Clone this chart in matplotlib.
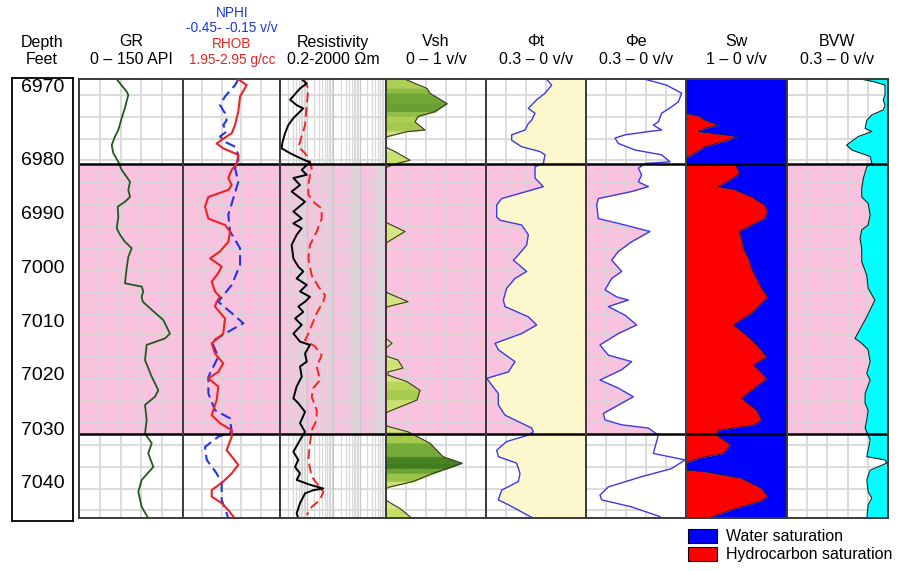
import numpy as np
import matplotlib.pyplot as plt
from matplotlib.colors import LinearSegmentedColormap, Normalize
from matplotlib.patches import Patch

plt.rcParams['font.family'] = ['Liberation Sans', 'DejaVu Sans']

# ---- curves: (depth ft, value) ----
gr_log = np.array([
    (6964.3, 54.4), (6966.6, 68.8), (6967.2, 71.1), (6969.6, 66.3), (6971.5, 61.6),
    (6973.7, 56.7), (6974.9, 51.9), (6976.5, 47.2), (6978.0, 49.5), (6979.6, 56.7),
    (6981.1, 61.6), (6982.4, 68.8), (6983.3, 73.6), (6984.8, 71.1), (6986.1, 73.6),
    (6987.0, 66.3), (6987.9, 55.8), (6989.8, 56.7), (6991.9, 54.4), (6993.1, 59.1),
    (6994.4, 66.3), (6995.6, 76.0), (6997.2, 71.1), (6999.3, 68.8), (7002.1, 66.3),
    (7002.7, 90.4), (7003.6, 92.7), (7004.6, 90.4), (7005.5, 92.0), (7007.0, 104.9),
    (7008.9, 121.6), (7011.4, 131.2), (7012.3, 124.0), (7013.5, 97.6), (7016.3, 95.2),
    (7019.4, 104.9), (7021.9, 114.4), (7023.1, 109.6), (7024.6, 95.2), (7027.4, 97.6),
    (7029.9, 95.2), (7031.7, 104.9), (7033.6, 99.9), (7036.1, 107.2), (7038.5, 90.4),
    (7040.7, 85.5), (7043.5, 90.4), (7045.6, 99.9)])

rhob_log = np.array([
    (6964.3, 2.520), (6965.4, 2.607), (6967.5, 2.538), (6970.3, 2.520), (6972.8, 2.486),
    (6974.3, 2.452), (6974.9, 2.400), (6976.2, 2.297), (6977.1, 2.365), (6978.3, 2.520),
    (6979.9, 2.504), (6981.1, 2.452), (6982.6, 2.417), (6983.9, 2.452), (6984.8, 2.417),
    (6986.1, 2.211), (6987.9, 2.177), (6990.1, 2.211), (6991.3, 2.383), (6992.5, 2.435),
    (6994.4, 2.417), (6996.2, 2.331), (6997.5, 2.228), (6998.1, 2.280), (6999.0, 2.349),
    (7000.2, 2.314), (7001.8, 2.246), (7003.6, 2.280), (7004.6, 2.331), (7005.5, 2.297),
    (7006.4, 2.280), (7008.6, 2.383), (7011.4, 2.365), (7013.2, 2.246), (7015.1, 2.280),
    (7016.9, 2.365), (7018.5, 2.314), (7019.7, 2.211), (7021.2, 2.314), (7023.7, 2.297),
    (7026.5, 2.246), (7028.0, 2.331), (7029.3, 2.452), (7030.5, 2.452), (7033.0, 2.400),
    (7035.7, 2.520), (7037.3, 2.452), (7038.8, 2.365), (7040.4, 2.246), (7041.6, 2.246),
    (7042.8, 2.349), (7044.1, 2.417), (7045.3, 2.469)])

nphi_log = np.array([
    (6964.3, 0.108), (6965.4, 0.128), (6967.5, 0.190), (6969.1, 0.221), (6970.6, 0.190),
    (6971.9, 0.180), (6972.8, 0.201), (6974.0, 0.180), (6974.9, 0.221), (6975.9, 0.190),
    (6976.8, 0.128), (6978.3, 0.108), (6979.6, 0.108), (6980.8, 0.128), (6983.3, 0.108),
    (6986.4, 0.139), (6989.4, 0.170), (6992.5, 0.159), (6995.6, 0.097), (6998.7, 0.097),
    (7002.4, 0.149), (7005.5, 0.232), (7007.6, 0.149), (7009.5, 0.077), (7011.4, 0.190),
    (7012.9, 0.272), (7015.7, 0.232), (7019.4, 0.293), (7022.5, 0.293), (7025.6, 0.252),
    (7027.1, 0.159), (7029.6, 0.149), (7030.5, 0.232), (7032.4, 0.314), (7034.8, 0.303),
    (7037.3, 0.242), (7039.1, 0.211), (7042.2, 0.211), (7044.7, 0.180), (7045.6, 0.170)])

rdeep_log = np.array([
    (6964.3, 1.32), (6965.1, 2.04), (6966.0, 1.14), (6968.1, 0.48), (6969.1, 0.85),
    (6969.7, 1.51), (6971.5, 0.64), (6972.8, 0.41), (6974.3, 0.31), (6975.9, 0.25),
    (6977.1, 0.23), (6978.0, 0.48), (6978.9, 1.14), (6979.7, 2.71), (6980.5, 1.76),
    (6981.1, 1.32), (6982.0, 2.04), (6982.6, 0.64), (6983.9, 1.14), (6985.1, 0.55),
    (6987.0, 1.76), (6988.8, 0.64), (6990.1, 1.32), (6991.0, 0.64), (6991.9, 1.32),
    (6993.1, 0.85), (6995.0, 0.55), (6997.5, 0.64), (6999.0, 0.98), (6999.9, 1.51),
    (7001.2, 0.85), (7002.4, 2.04), (7003.6, 1.14), (7004.6, 2.71), (7005.5, 1.76),
    (7006.4, 0.98), (7007.4, 1.51), (7008.6, 0.74), (7009.8, 1.32), (7011.4, 0.64),
    (7012.9, 1.14), (7013.5, 2.71), (7015.1, 1.76), (7016.6, 2.04), (7017.5, 1.14),
    (7019.4, 1.32), (7021.2, 0.85), (7023.4, 0.64), (7024.3, 0.98), (7025.9, 1.76),
    (7028.0, 1.14), (7029.6, 1.76), (7031.1, 1.14), (7033.3, 0.64), (7034.8, 0.98),
    (7036.1, 0.74), (7037.3, 1.14), (7038.5, 0.85), (7039.4, 2.71), (7040.1, 8.61),
    (7040.4, 3.61), (7041.0, 1.76), (7042.8, 1.14), (7044.7, 0.85), (7045.6, 0.98)])

rshallow_log = np.array([
    (6964.3, 1.51), (6966.0, 2.34), (6969.1, 2.04), (6972.8, 1.76), (6975.9, 1.14),
    (6976.8, 0.98), (6978.0, 1.76), (6979.6, 2.71), (6980.8, 3.14), (6982.0, 2.71),
    (6983.9, 2.34), (6985.7, 2.34), (6987.3, 4.19), (6988.2, 7.49), (6990.1, 7.49),
    (6992.5, 4.85), (6995.0, 2.71), (6997.5, 2.34), (7000.6, 3.14), (7002.7, 5.58),
    (7004.3, 9.98), (7005.5, 8.61), (7007.6, 4.85), (7011.4, 2.34), (7012.6, 1.76),
    (7013.8, 4.19), (7015.4, 7.49), (7017.5, 4.85), (7020.0, 6.47), (7021.5, 3.61),
    (7023.1, 3.14), (7025.6, 4.85), (7027.4, 4.85), (7029.3, 3.14), (7031.7, 2.71),
    (7034.8, 2.34), (7037.9, 3.14), (7040.7, 8.61), (7042.2, 6.47), (7043.5, 3.14),
    (7045.0, 2.04)])

vsh_log = np.array([
    (6964.3, 0.19), (6966.0, 0.41), (6966.9, 0.44), (6968.8, 0.61), (6970.3, 0.49),
    (6971.2, 0.32), (6972.2, 0.29), (6973.7, 0.39), (6974.0, 0.21), (6974.9, 0.02),
    (6975.2, 0.0), (6976.7, 0.0), (6977.1, 0.02), (6977.7, 0.09), (6979.3, 0.24),
    (6979.9, 0.11), (6980.5, 0.02), (6980.8, 0.0), (6990.7, 0.0), (6991.0, 0.02),
    (6992.5, 0.19), (6994.4, 0.02), (6994.7, 0.0), (7003.6, 0.0), (7003.9, 0.02),
    (7005.5, 0.22), (7006.4, 0.02), (7006.7, 0.0), (7012.3, 0.0), (7012.6, 0.02),
    (7013.2, 0.06), (7013.8, 0.02), (7014.1, 0.0), (7015.4, 0.0), (7015.7, 0.02),
    (7016.3, 0.12), (7017.8, 0.17), (7018.5, 0.02), (7019.1, 0.02), (7020.3, 0.21),
    (7021.9, 0.34), (7023.7, 0.31), (7025.9, 0.02), (7026.2, 0.0), (7028.3, 0.0),
    (7028.6, 0.02), (7029.6, 0.22), (7031.7, 0.44), (7034.2, 0.57), (7035.4, 0.76),
    (7036.4, 0.61), (7037.3, 0.47), (7038.8, 0.27), (7039.8, 0.04), (7040.1, 0.0),
    (7042.2, 0.0), (7042.5, 0.02), (7043.8, 0.14), (7045.6, 0.26)])

phit_log = np.array([
    (6964.3, 0.118), (6965.4, 0.103), (6966.9, 0.123), (6968.1, 0.148), (6969.7, 0.173),
    (6970.6, 0.153), (6971.9, 0.163), (6972.5, 0.173), (6973.7, 0.183), (6974.6, 0.223),
    (6975.6, 0.223), (6976.8, 0.193), (6977.7, 0.138), (6978.3, 0.123), (6979.9, 0.128),
    (6980.5, 0.153), (6982.6, 0.153), (6984.2, 0.128), (6986.4, 0.253), (6987.6, 0.268),
    (6989.8, 0.268), (6990.4, 0.258), (6991.3, 0.193), (6993.1, 0.173), (6995.0, 0.178),
    (6997.2, 0.208), (6997.8, 0.218), (6999.9, 0.178), (7001.2, 0.213), (7003.0, 0.238),
    (7005.2, 0.248), (7006.4, 0.243), (7008.3, 0.173), (7009.8, 0.148), (7011.4, 0.193),
    (7013.2, 0.273), (7014.4, 0.263), (7016.6, 0.213), (7018.5, 0.233), (7019.7, 0.298),
    (7022.5, 0.263), (7024.6, 0.263), (7026.5, 0.243), (7028.9, 0.163), (7029.6, 0.158),
    (7030.2, 0.173), (7031.4, 0.238), (7033.0, 0.268), (7034.2, 0.263), (7035.4, 0.208),
    (7037.3, 0.198), (7038.8, 0.203), (7040.4, 0.253), (7042.2, 0.263), (7043.1, 0.233),
    (7045.6, 0.158)])

phie_log = np.array([
    (6964.3, 0.123), (6965.4, 0.058), (6966.9, 0.013), (6968.5, 0.023), (6969.4, 0.043),
    (6970.6, 0.073), (6972.2, 0.083), (6972.8, 0.098), (6973.7, 0.073), (6974.0, 0.113),
    (6974.6, 0.183), (6975.2, 0.213), (6976.2, 0.203), (6977.4, 0.153), (6978.3, 0.073),
    (6979.6, 0.048), (6979.9, 0.123), (6980.8, 0.143), (6982.0, 0.133), (6983.3, 0.143),
    (6984.2, 0.113), (6985.1, 0.163), (6986.4, 0.263), (6987.6, 0.268), (6990.1, 0.263),
    (6991.3, 0.183), (6992.5, 0.108), (6994.4, 0.163), (6996.2, 0.203), (6997.8, 0.223),
    (6999.9, 0.193), (7001.2, 0.223), (7003.3, 0.243), (7004.6, 0.208), (7005.2, 0.173),
    (7006.4, 0.233), (7008.0, 0.183), (7009.8, 0.148), (7011.4, 0.203), (7013.5, 0.258),
    (7015.4, 0.233), (7016.6, 0.163), (7018.1, 0.193), (7020.0, 0.258), (7021.5, 0.203),
    (7023.1, 0.158), (7024.3, 0.193), (7026.2, 0.248), (7027.4, 0.243), (7028.3, 0.193),
    (7028.9, 0.113), (7030.2, 0.083), (7033.6, 0.098), (7034.8, 0.003), (7036.4, 0.043),
    (7037.9, 0.133), (7039.8, 0.233), (7041.3, 0.258), (7042.2, 0.253), (7043.5, 0.163),
    (7045.3, 0.078)])

sw_log = np.array([
    (6964.3, 1.0), (6970.6, 1.0), (6971.2, 0.86), (6971.9, 0.81), (6972.8, 0.68),
    (6973.4, 0.81), (6974.0, 0.88), (6974.9, 0.50), (6975.6, 0.58), (6976.8, 0.81),
    (6978.3, 0.94), (6978.9, 1.0), (6979.9, 1.0), (6980.1, 0.51), (6981.7, 0.47),
    (6982.6, 0.53), (6984.2, 0.68), (6984.8, 0.51), (6986.1, 0.35), (6987.6, 0.22),
    (6988.8, 0.19), (6990.1, 0.22), (6991.3, 0.35), (6992.5, 0.47), (6993.8, 0.45),
    (6995.6, 0.43), (6997.5, 0.38), (6999.3, 0.35), (7001.2, 0.30), (7003.0, 0.25),
    (7004.6, 0.19), (7005.2, 0.22), (7007.6, 0.35), (7009.8, 0.53), (7011.4, 0.42),
    (7013.5, 0.30), (7015.7, 0.20), (7017.2, 0.33), (7018.1, 0.28), (7019.7, 0.20),
    (7021.2, 0.30), (7023.4, 0.45), (7025.6, 0.30), (7027.4, 0.25), (7028.3, 0.32),
    (7029.3, 0.68), (7030.2, 0.70), (7032.0, 0.56), (7033.6, 0.63), (7034.5, 0.88),
    (7035.4, 1.0), (7036.7, 1.0), (7037.0, 0.81), (7038.2, 0.45), (7040.1, 0.25),
    (7041.6, 0.19), (7042.5, 0.27), (7043.8, 0.51), (7045.6, 0.78)])

bvw_log = np.array([
    (6964.3, 0.078), (6964.8, 0.039), (6965.4, 0.009), (6967.2, 0.009), (6968.1, 0.014),
    (6969.1, 0.009), (6970.0, 0.014), (6970.9, 0.048), (6971.9, 0.063), (6973.4, 0.068),
    (6974.0, 0.048), (6974.9, 0.088), (6976.5, 0.123), (6977.4, 0.108), (6978.6, 0.053),
    (6979.9, 0.048), (6980.5, 0.063), (6982.6, 0.073), (6984.5, 0.078), (6986.1, 0.078),
    (6987.3, 0.059), (6989.4, 0.053), (6991.3, 0.059), (6992.2, 0.078), (6993.8, 0.083),
    (6995.6, 0.078), (6998.1, 0.078), (7000.6, 0.063), (7003.0, 0.059), (7005.2, 0.039),
    (7008.3, 0.063), (7012.3, 0.098), (7013.2, 0.078), (7014.4, 0.059), (7016.6, 0.053),
    (7018.8, 0.063), (7020.0, 0.053), (7022.5, 0.068), (7024.3, 0.068), (7025.6, 0.059),
    (7027.4, 0.063), (7028.9, 0.068), (7031.1, 0.053), (7034.2, 0.063), (7034.8, 0.009),
    (7035.4, 0.004), (7036.7, 0.053), (7038.5, 0.063), (7040.7, 0.059), (7041.9, 0.048),
    (7043.1, 0.059), (7045.6, 0.063)])

zone_top, zone_base = 6980, 7030
depth_labels = ['6970', '6980', '6990', '7000', '7010', '7020', '7030', '7040']
depth_label_pos = [6965.8, 6979.4, 6989.4, 6999.3, 7009.3, 7019.1, 7029.3, 7039.1]

# ---- layout (pixels of a 913x571 canvas) ----
W, H = 913, 571
TOP, BOT = 79, 518


def depth_at(ypx):
    # 5.4 px per foot, zone top sits on pixel row 164
    return zone_top + (ypx - 164) / 5.4


dmin, dmax = depth_at(TOP), depth_at(BOT)
grid_depths = np.arange(6967.2, dmax, 4.05)
pink = '#f9c2df'
gridc = '#d6d6d6'

fig = plt.figure(figsize=(W / 100, H / 100), dpi=100)


def no_ticks(ax):
    ax.tick_params(which='both', bottom=False, left=False, top=False, right=False,
                   labelbottom=False, labelleft=False, labeltop=False, labelright=False)


def track(x0, x1, xlim, log=False, vgrid=True):
    ax = fig.add_axes([x0 / W, 1 - BOT / H, (x1 - x0) / W, (BOT - TOP) / H])
    if log:
        ax.set_xscale('log')
    ax.set_xlim(*xlim)
    ax.set_ylim(dmax, dmin)
    no_ticks(ax)
    for s in ax.spines.values():
        s.set_color('#3a3a3a')
        s.set_linewidth(1.4)
        s.set_zorder(9)
    ax.axhspan(zone_top, zone_base, color=pink, lw=0, zorder=0)
    for d in grid_depths:
        ax.axhline(d, color=gridc, lw=1.2, zorder=1)
    if vgrid:
        for x in np.linspace(xlim[0], xlim[1], 6)[1:-1]:
            ax.axvline(x, color=gridc, lw=1.2, zorder=1)
    return ax


def zone_lines(ax):
    for z in (zone_top, zone_base):
        ax.axhline(z, color='black', lw=1.8, zorder=8)


# depth column
axd = fig.add_axes([12 / W, 1 - 521 / H, 61 / W, 443 / H])
axd.set_ylim(depth_at(521), depth_at(78))
axd.set_xlim(0, 1)
axd.set_xticks([])
axd.set_yticks([])
for s in axd.spines.values():
    s.set_linewidth(1.3)
for lab, pos in zip(depth_labels, depth_label_pos):
    axd.text(0.5, pos, lab, ha='center', va='center', fontsize=14)

# GR
ax = track(79, 183, (0, 150))
ax.plot(gr_log[:, 1], gr_log[:, 0], color='#1f5a1f', lw=1.3, zorder=3)
zone_lines(ax)

# NPHI / RHOB
ax = track(183, 280, (0.45, -0.15))
ax.plot(nphi_log[:, 1], nphi_log[:, 0], color='#2233ee', lw=1.5, ls=(0, (5, 2.5)), zorder=3)
ax2 = ax.twiny()
ax2.set_xlim(1.95, 2.95)
ax2.set_ylim(dmax, dmin)
no_ticks(ax)
no_ticks(ax2)
for s in ax2.spines.values():
    s.set_visible(False)
ax2.plot(rhob_log[:, 1], rhob_log[:, 0], color='#ee2222', lw=1.5, zorder=3)
zone_lines(ax)

# Resistivity
ax = track(280, 386, (0.2, 2000), log=True, vgrid=False)
for dec in (0.2, 2, 20, 200):
    for k in range(1, 10):
        ax.axvline(dec * k, color='#d8d8d8' if k > 1 else '#c8c8c8', lw=0.9, zorder=1)
ax.plot(rshallow_log[:, 1], rshallow_log[:, 0], color='#ff2020', lw=1.4,
        ls=(0, (5, 2.5)), zorder=3)
ax.plot(rdeep_log[:, 1], rdeep_log[:, 0], color='black', lw=1.4, zorder=4)
zone_lines(ax)

# Vsh
ax = track(386, 486, (0, 1))
cmap = LinearSegmentedColormap.from_list(
    'vsh', ['#e6efa0', '#bcd858', '#78ad3a', '#2c6c16'])
norm = Normalize(0.0, 0.75)
vd, vv = vsh_log[:, 0], vsh_log[:, 1]
for i in range(len(vd) - 1):
    v = 0.5 * (vv[i] + vv[i + 1])
    if v <= 0:
        continue
    c = cmap(norm(v))
    ax.fill_betweenx(vd[i:i + 2], 0, vv[i:i + 2], color=c, lw=0.4, ec=c, zorder=2)
ax.plot(vv, vd, color='#3a3a20', lw=0.8, zorder=3)
zone_lines(ax)

# PHIT
ax = track(486, 586, (0.3, 0))
ax.fill_betweenx(phit_log[:, 0], phit_log[:, 1], 0, color='#fcf7cc', lw=0, zorder=2)
ax.plot(phit_log[:, 1], phit_log[:, 0], color='#3a3ae6', lw=1.0, zorder=3)
zone_lines(ax)

# PHIE
ax = track(586, 686, (0.3, 0))
ax.fill_betweenx(phie_log[:, 0], phie_log[:, 1], 0, color='white', lw=0, zorder=2)
ax.plot(phie_log[:, 1], phie_log[:, 0], color='#3a3ae6', lw=1.0, zorder=3)
zone_lines(ax)

# Sw
ax = track(686, 787, (1, 0), vgrid=False)
ax.fill_betweenx(sw_log[:, 0], 1, sw_log[:, 1], color='#ff0000', lw=0, zorder=2)
ax.fill_betweenx(sw_log[:, 0], sw_log[:, 1], 0, color='#0000ff', lw=0, zorder=2)
ax.plot(sw_log[:, 1], sw_log[:, 0], color='#202020', lw=0.7, zorder=3)
zone_lines(ax)

# BVW
ax = track(787, 888, (0.3, 0))
ax.fill_betweenx(bvw_log[:, 0], bvw_log[:, 1], 0, color='#00ffff', lw=0, zorder=2)
ax.plot(bvw_log[:, 1], bvw_log[:, 0], color='#202020', lw=0.8, zorder=3)
zone_lines(ax)

# headers
headers = [(42, 'Depth', 'Feet'), (131, 'GR', '0 – 150 API'),
           (333, 'Resistivity', '0.2-2000 Ωm'), (436, 'Vsh', '0 – 1 v/v'),
           (536, 'Φt', '0.3 – 0 v/v'), (636, 'Φe', '0.3 – 0 v/v'),
           (736, 'Sw', '1 – 0 v/v'), (837, 'BVW', '0.3 – 0 v/v')]
for x, l1, l2 in headers:
    fig.text(x / W, 1 - 42 / H, l1, ha='center', va='center', fontsize=11.5)
    fig.text(x / W, 1 - 60 / H, l2, ha='center', va='center', fontsize=11.5)

for y, txt, col in [(13, 'NPHI', '#1a36e0'), (28, '-0.45- -0.15 v/v', '#1a36e0'),
                    (44, 'RHOB', '#ee2020'), (60, '1.95-2.95 g/cc', '#ee2020')]:
    fig.text(232 / W, 1 - y / H, txt, ha='center', va='center', fontsize=9.8, color=col)

# legend
handles = [Patch(facecolor='#0000ff', edgecolor='black', lw=0.8, label='Water saturation'),
           Patch(facecolor='#ff0000', edgecolor='black', lw=0.8, label='Hydrocarbon saturation')]
fig.legend(handles=handles, loc='upper left', bbox_to_anchor=(688 / W, 1 - 529 / H),
           frameon=False, fontsize=11.5, handlelength=1.8, handleheight=0.95,
           handletextpad=0.6, labelspacing=0.15, borderaxespad=0, borderpad=0)

fig.savefig('out.png', dpi=100)
